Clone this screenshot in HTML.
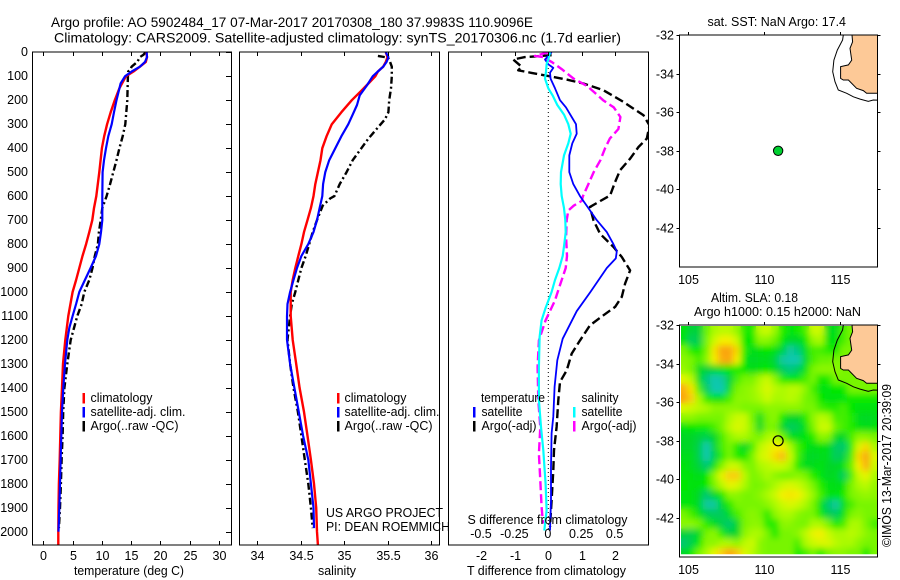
<!DOCTYPE html>
<html lang="en">
<head>
<meta charset="utf-8">
<title>Argo profile 5902484_17</title>
<style>
html,body{margin:0;padding:0;background:#fff;}
svg{display:block;}
text{font-family:"Liberation Sans",Arial,sans-serif;font-size:12.5px;fill:#000;}
</style>
</head>
<body>
<svg id="fig" width="900" height="580" viewBox="0 0 900 580" xmlns="http://www.w3.org/2000/svg">
<defs>
<clipPath id="clip-map1"><rect x="679.5" y="35" width="198" height="232"/></clipPath>
<clipPath id="clip-map2"><rect x="679.5" y="325" width="198" height="232"/></clipPath>
<clipPath id="clip-heat"><rect x="681" y="326" width="196.5" height="228.3"/></clipPath>
<clipPath id="clip-p1"><rect x="32.5" y="52" width="199" height="493"/></clipPath>
<clipPath id="clip-p2"><rect x="239.5" y="52" width="200" height="493"/></clipPath>
<clipPath id="clip-p3"><rect x="448.5" y="52" width="200" height="493"/></clipPath>
<filter id="soften" x="-5%" y="-5%" width="110%" height="110%">
<feGaussianBlur in="SourceGraphic" stdDeviation="3.2" result="b"/>
<feMerge><feMergeNode in="SourceGraphic"/><feMergeNode in="b"/></feMerge>
</filter>
</defs>
<rect x="0" y="0" width="900" height="580" fill="#fff"/>

<text x="51" y="27" font-size="14" style="font-size:14px" textLength="482" lengthAdjust="spacingAndGlyphs">Argo profile: AO 5902484_17 07-Mar-2017 20170308_180 37.9983S 110.9096E</text>
<text x="54" y="42.5" style="font-size:14px" textLength="567" lengthAdjust="spacingAndGlyphs">Climatology: CARS2009. Satellite-adjusted climatology: synTS_20170306.nc (1.7d earlier)</text>

<g id="p1-marks" clip-path="url(#clip-p1)"></g>
<g id="p2-marks" clip-path="url(#clip-p2)"></g>
<g id="p3-marks" clip-path="url(#clip-p3)"></g>
<g id="heat" clip-path="url(#clip-heat)"><g id="heat-cells" filter="url(#soften)"></g></g>
<g id="map1-marks" clip-path="url(#clip-map1)"></g>
<g id="map2-marks" clip-path="url(#clip-map2)"></g>
<g id="axes"></g>

<g>
<rect x="82.5" y="393" width="2.5" height="10.5" fill="#f00"/>
<rect x="82.5" y="407" width="2.5" height="10.5" fill="#00f"/>
<rect x="82.5" y="421" width="2.5" height="10.5" fill="#000"/>
<text x="90.5" y="402" textLength="62" lengthAdjust="spacingAndGlyphs">climatology</text>
<text x="90.5" y="416" textLength="95" lengthAdjust="spacingAndGlyphs">satellite-adj. clim.</text>
<text x="90.5" y="430" textLength="88" lengthAdjust="spacingAndGlyphs">Argo(..raw -QC)</text>
</g>
<g>
<rect x="337" y="393" width="2.5" height="10.5" fill="#f00"/>
<rect x="337" y="407" width="2.5" height="10.5" fill="#00f"/>
<rect x="337" y="421" width="2.5" height="10.5" fill="#000"/>
<text x="344.5" y="402" textLength="62" lengthAdjust="spacingAndGlyphs">climatology</text>
<text x="344.5" y="416" textLength="95" lengthAdjust="spacingAndGlyphs">satellite-adj. clim.</text>
<text x="344.5" y="430" textLength="88" lengthAdjust="spacingAndGlyphs">Argo(..raw -QC)</text>
</g>
<text x="326" y="517" textLength="117" lengthAdjust="spacingAndGlyphs">US ARGO PROJECT</text>
<text x="326" y="531" textLength="124" lengthAdjust="spacingAndGlyphs">PI: DEAN ROEMMICH</text>

<g>
<text x="481" y="402" textLength="64" lengthAdjust="spacingAndGlyphs">temperature</text>
<text x="581.5" y="402" textLength="37" lengthAdjust="spacingAndGlyphs">salinity</text>
<rect x="473" y="407" width="2.5" height="10.5" fill="#00f"/>
<rect x="473" y="421" width="2.5" height="10.5" fill="#000"/>
<rect x="573" y="407" width="2.5" height="10.5" fill="#0ff"/>
<rect x="573" y="421" width="2.5" height="10.5" fill="#f0f"/>
<text x="481.5" y="416" textLength="41" lengthAdjust="spacingAndGlyphs">satellite</text>
<text x="481.5" y="430" textLength="55" lengthAdjust="spacingAndGlyphs">Argo(-adj)</text>
<text x="581.5" y="416" textLength="41" lengthAdjust="spacingAndGlyphs">satellite</text>
<text x="581.5" y="430" textLength="55" lengthAdjust="spacingAndGlyphs">Argo(-adj)</text>
</g>

<text x="74" y="575" textLength="110" lengthAdjust="spacingAndGlyphs">temperature (deg C)</text>
<text x="318" y="575" textLength="38" lengthAdjust="spacingAndGlyphs">salinity</text>
<text x="467" y="575" textLength="159" lengthAdjust="spacingAndGlyphs">T difference from climatology</text>
<text x="467.5" y="524" textLength="160" lengthAdjust="spacingAndGlyphs">S difference from climatology</text>

<text x="707.5" y="26" textLength="138.5" lengthAdjust="spacingAndGlyphs">sat. SST: NaN Argo: 17.4</text>
<text x="711" y="302" textLength="87" lengthAdjust="spacingAndGlyphs">Altim. SLA: 0.18</text>
<text x="694" y="316" textLength="167" lengthAdjust="spacingAndGlyphs">Argo h1000: 0.15 h2000: NaN</text>
<text transform="translate(891,547) rotate(-90)" x="0" y="0" textLength="163" lengthAdjust="spacingAndGlyphs">©IMOS 13-Mar-2017 20:39:09</text>

<script>
/* ---- profile data ---- */
const tempClimDepth = [0,20,40,60,80,100,150,200,250,300,350,400,500,600,650,700,750,800,850,900,950,1000,1100,1200,1300,1400,1500,1600,1700,1800,1900,2000,2055];
const tempClim = [17.6,17.7,17.5,16.5,15.4,14.1,13,12.2,11.5,10.9,10.4,10,9.56,9.05,8.65,8.37,7.85,7.3,6.7,6.15,5.6,5,4.27,3.76,3.36,3.2,3,2.9,2.8,2.67,2.6,2.56,2.56];
const tempSatDepth = [0,20,40,60,80,100,130,200,250,300,350,400,450,500,600,700,750,800,850,900,950,1000,1050,1100,1150,1200,1300,1400,1500,1600,1700,1800,1900,2000];
const tempSat = [17.65,17.7,17.36,16.5,15.1,13.95,13.2,12.5,12.07,11.67,11.1,10.7,10.36,10.13,10.07,10.07,9.85,9.56,9,8.08,7.1,6.15,5.6,5,4.44,4.1,3.7,3.41,3.19,3.07,2.96,2.85,2.73,2.6];
const tempArgoDepth = [0,10,20,40,60,70,80,100,200,300,350,400,450,500,550,600,650,700,750,800,850,900,950,1000,1050,1100,1150,1200,1300,1400,1500,1600,1700,1800,1900,1985];
const tempArgo = [17.47,17.1,16.5,16.05,15.08,14.9,14.5,14.45,14.34,14,13.55,13,12.5,11.95,11.4,10.8,10.07,9.8,9.5,9.33,8.8,8.4,7.85,7,6.55,5.8,5.24,4.67,4.1,3.6,3.4,3.3,3.13,3,2.85,2.67];

const salClimDepth = [0,20,40,60,80,100,130,160,200,250,300,350,400,450,500,550,600,650,700,750,800,850,900,950,1000,1100,1200,1300,1400,1500,1600,1700,1800,1900,2000,2055];
const salClim = [35.48,35.5,35.48,35.45,35.39,35.36,35.28,35.2,35.09,34.97,34.86,34.8,34.75,34.73,34.7,34.67,34.65,34.62,34.58,34.54,34.51,34.475,34.44,34.41,34.387,34.387,34.41,34.45,34.49,34.54,34.58,34.62,34.655,34.68,34.69,34.7];
const salSatDepth = [0,20,40,60,80,100,140,180,220,260,300,350,400,450,500,550,600,650,700,750,800,850,900,950,1000,1050,1100,1200,1300,1400,1500,1600,1700,1800,1900,1985];
const salSat = [35.48,35.51,35.49,35.45,35.39,35.33,35.26,35.18,35.15,35.1,35.05,34.97,34.9,34.83,34.785,34.76,34.75,34.72,34.69,34.65,34.59,34.51,34.46,34.42,34.38,34.35,34.345,34.345,34.38,34.43,34.48,34.53,34.59,34.62,34.65,34.655];
const salArgoDepth = [15,22,30,60,100,150,200,250,280,320,360,400,450,500,550,600,610,640,700,750,800,850,900,950,1000,1050,1100,1200,1300,1400,1500,1600,1700,1800,1900,1985];
const salArgo = [35.39,35.5,35.52,35.55,35.55,35.54,35.52,35.51,35.47,35.375,35.28,35.2,35.1,35.03,34.95,34.89,34.84,34.755,34.69,34.64,34.6,34.56,34.51,34.475,34.44,34.4,34.38,34.35,34.38,34.42,34.47,34.51,34.55,34.59,34.62,34.64];

const dtSatDepth = [0,15,30,50,65,85,110,150,200,230,270,300,340,380,430,500,550,600,650,700,750,800,830,860,900,1000,1080,1195,1285,1395,1520,1590,1730,1870,1995];
const dtSat = [0.1,0,-0.1,0,0.15,0.05,0.07,0.2,0.35,0.53,0.7,0.83,0.85,0.72,0.63,0.63,0.75,0.95,1.2,1.45,1.75,1.95,2.05,2.02,1.75,1.26,0.85,0.43,0.27,0.19,0.15,0.1,0.08,0.08,0.05];
const dtArgoDepth = [12,20,30,60,75,86,100,114,130,158,207,263,305,360,395,444,492,541,597,625,645,700,757,812,854,910,965,1020,1062,1097,1139,1202,1257,1327,1375,1452,1563,1660,1744,1870,1980];
const dtArgo = [0.1,-0.7,-1.05,-0.8,-0.9,-0.5,0.05,0.55,1.05,1.65,2.25,2.85,3.03,2.95,2.7,2.45,2.15,2,1.85,1.5,1.25,1.35,1.55,1.95,2.2,2.45,2.3,2.2,2,1.65,1.25,0.95,0.7,0.55,0.35,0.3,0.25,0.17,0.15,0.1,0.05];
const dsSatDepth = [0,30,50,80,110,150,180,220,260,300,340,380,430,500,550,600,650,700,750,800,850,900,950,1000,1070,1118,1188,1313,1452,1563,1660,1800,1911,1995];
const dsSat = [0.0125,0,-0.0125,-0.0175,-0.025,0,0.0325,0.0675,0.1175,0.15,0.1675,0.15,0.1175,0.095,0.0925,0.1,0.1175,0.1275,0.13,0.12,0.1075,0.0825,0.05,0.025,-0.0225,-0.05,-0.065,-0.07,-0.07,-0.055,-0.0375,-0.02,-0.0125,-0.03];
const dsArgoDepth = [0,15,20,40,70,110,140,170,200,230,270,320,360,400,450,500,550,600,620,640,660,700,770,850,900,950,1000,1035,1118,1202,1313,1452,1563,1675,1786,1897,1966];
const dsArgo = [0,-0.1,-0.04,0.025,0.1,0.19,0.29,0.35,0.41,0.49,0.54,0.525,0.46,0.425,0.39,0.34,0.3,0.26,0.25,0.19,0.15,0.1375,0.133,0.14,0.13,0.1,0.07,0.05,-0.02,-0.07,-0.08,-0.075,-0.06,-0.07,-0.06,-0.05,-0.04];

/* ---- tick labels ---- */
const depthTicks = [0,100,200,300,400,500,600,700,800,900,1000,1100,1200,1300,1400,1500,1600,1700,1800,1900,2000];
const tempTicks = [0,5,10,15,20,25,30];
const salTicks = [34,34.5,35,35.5,36];
const dtTicks = [-2,-1,0,1,2];
const dsTicks = [-0.5,-0.25,0,0.25,0.5];
const lonTicks = [105,110,115];
const latTicks = [-32,-34,-36,-38,-40,-42];

/* ---- map data ---- */
const landLon = [115.77,115.81,115.64,115.75,115.53,115.02,115.02,115.2,115.53,116.07,116.51,116.73,117.6,117.6];
const landLat = [-32,-32.35,-32.69,-33.3,-33.55,-33.64,-34.25,-34.33,-34.33,-34.76,-34.88,-35.02,-35.02,-32];
const isoLon = [115.2,115.15,114.8,114.58,114.5,114.65,114.87,115.42,115.86,116.3,116.84,117.17,117.6];
const isoLat = [-32,-32.26,-32.78,-33.3,-33.9,-34.42,-34.85,-35.02,-35.2,-35.32,-35.44,-35.37,-35.38];
const profileLon = [110.91];
const profileLat = [-38];

/* ---- altimeter SLA in cm, 0.5 deg cells, north to south ---- */
const slaRows = [
[-6,-12,-12,2,8,10,10,6,-2,-3,10,12,6,-2,-5,-3,0,12,12,-8,-8,0,3,3,3,3],
[-6,-16,-14,3,12,18,18,12,-4,-4,5,5,2,-4,-10,-10,-4,6,8,-6,-6,0,3,3,3,3],
[3,-2,-4,3,20,32,36,22,-2,-8,-6,-4,-6,-12,-24,-20,-8,0,0,-2,-4,3,3,3,3,3],
[5,3,0,5,18,30,32,18,-4,-10,-8,-8,-12,-24,-32,-26,-10,0,2,2,3,3,3,3,3,3],
[6,3,-8,-12,-10,-6,-4,-2,-4,-8,-6,-4,-8,-16,-20,-16,-6,3,5,5,5,3,3,3,3,3],
[15,10,-8,-20,-28,-24,-12,0,3,3,8,12,5,-2,-4,-4,0,3,-4,-2,3,3,3,3,3,3],
[30,20,0,-16,-30,-26,-8,3,5,6,10,14,10,8,10,10,5,0,-6,-5,-4,-4,3,3,3,3],
[32,24,8,-2,-6,-6,0,5,5,6,8,12,8,8,10,8,3,2,-4,-6,-6,-5,-3,-3,-3,-3],
[14,12,10,8,5,5,5,5,3,3,3,5,5,5,5,5,3,3,0,-2,-2,0,-4,-6,-6,-6],
[5,5,3,3,3,3,8,12,12,3,-8,3,5,-3,-10,-10,-2,5,10,8,0,0,-2,-8,-10,-8],
[-5,-4,-3,-3,0,3,10,14,12,5,-10,3,3,-10,-16,-14,-6,3,12,12,2,0,-2,-6,-8,-6],
[-10,-10,-12,-14,-10,0,5,8,8,5,3,8,10,3,-6,-8,-5,-2,5,4,-8,-10,0,5,5,3],
[-10,-10,-14,-26,-12,0,3,-2,-10,0,10,14,18,18,8,0,-4,-8,-6,-8,-16,-18,-2,14,22,8],
[-8,-8,-14,-32,-14,-2,3,-2,-4,3,12,15,22,28,12,0,-8,-10,-8,-8,-16,-14,0,22,32,14],
[-6,-8,-12,-18,-6,4,12,12,5,3,8,10,12,12,8,-2,-8,-8,-6,-10,-10,-6,2,18,30,12],
[-5,-6,-8,-4,5,16,24,24,10,3,5,8,5,3,3,5,3,-2,-5,-10,-8,-16,0,12,16,8],
[-4,-6,-6,-4,3,10,16,14,8,3,3,5,8,12,14,12,8,3,-2,-6,-8,-6,3,8,10,6],
[-5,-6,-10,-18,-10,-3,5,5,3,3,5,8,12,18,20,18,12,6,0,-6,-6,-3,3,5,6,5],
[-5,-5,-10,-24,-24,-10,-2,3,3,3,3,5,8,12,14,12,8,3,-6,-18,-24,-8,0,3,3,3],
[3,0,-6,-14,-16,-16,-8,0,3,5,3,-2,5,8,8,5,3,3,-3,-14,-16,-6,3,5,3,3],
[5,5,3,-2,-8,-14,-18,-10,3,5,5,-2,-2,5,5,3,3,8,8,3,-3,0,8,8,3,0],
[-12,-14,-8,3,5,-2,-12,-10,5,8,8,3,-3,3,3,5,10,16,18,12,8,8,10,8,5,3],
[-18,-14,-4,5,5,8,8,5,10,12,5,3,3,3,3,0,8,12,14,14,10,8,8,5,3,3],
[-10,-4,3,8,16,24,32,26,14,10,5,3,3,3,3,-3,0,3,-2,3,5,5,3,3,-4,3]
];
const slaColorLevels = [-26,-18,-10,-4,3,8,13,18,25,32];
const slaColorRamp = [[16,200,176],[0,200,110],[0,215,40],[0,232,0],[120,245,0],[170,250,0],[210,250,0],[245,240,0],[250,200,10],[250,165,10]];

/* ---- axis functions ---- */
const NS = 'http://www.w3.org/2000/svg';
function yDepth(d){ return 52.3 + 0.2397 * d; }
function xTemp(t){ return 43.3 + 5.857 * t; }
function xSal(s){ return 257 + 87 * (s - 34); }
function xDT(t){ return 548.3 + 33.4 * t; }
function xDS(s){ return 548.3 + 133.6 * s; }
function xLon(lon){ return 688.3 + 15.2 * (lon - 105); }
function yLat1(lat){ return 35 + 19.3 * (-32 - lat); }
function yLat2(lat){ return 325 + 19.3 * (-32 - lat); }

function mk(tag, attrs, parent){
  const el = document.createElementNS(NS, tag);
  for (const k in attrs) el.setAttribute(k, attrs[k]);
  parent.appendChild(el);
  return el;
}
function profilePath(parent, name, xs, depths, xf, color, width, dash){
  let pts = '';
  for (let i = 0; i < xs.length; i++) pts += xf(xs[i]).toFixed(1) + ',' + yDepth(depths[i]).toFixed(1) + ' ';
  const attrs = {points: pts, fill: 'none', stroke: color, 'stroke-width': width, 'stroke-linejoin': 'round'};
  if (dash) attrs['stroke-dasharray'] = dash;
  const el = mk('polyline', attrs, parent);
  
  
}
function hline(parent, name, x1, y1, x2, y2){
  const el = mk('line', {x1: x1, y1: y1, x2: x2, y2: y2, stroke: '#000', 'stroke-width': 1, 'shape-rendering': 'crispEdges'}, parent);
  
  
}
function label(parent, name, x, y, str, anchor){
  const el = mk('text', {x: x, y: y, 'text-anchor': anchor}, parent);
  el.textContent = str;
  
  
}
function frame(parent, name, x, y, w, h){
  const el = mk('rect', {x: x, y: y, width: w, height: h, fill: 'none', stroke: '#000', 'stroke-width': 1, 'shape-rendering': 'crispEdges'}, parent);
  
  
}

/* ---- draw series ---- */
const p1 = document.getElementById('p1-marks');
const p2 = document.getElementById('p2-marks');
const p3 = document.getElementById('p3-marks');
const ARGO_DASH = '7 3 2 3';
profilePath(p1, 'temperature-argo-line', tempArgo, tempArgoDepth, xTemp, '#000', 2.4, ARGO_DASH);
profilePath(p1, 'temperature-climatology-line', tempClim, tempClimDepth, xTemp, '#f00', 2.4);
profilePath(p1, 'temperature-satellite-line', tempSat, tempSatDepth, xTemp, '#00f', 2.2);
profilePath(p2, 'salinity-argo-line', salArgo, salArgoDepth, xSal, '#000', 2.4, ARGO_DASH);
profilePath(p2, 'salinity-climatology-line', salClim, salClimDepth, xSal, '#f00', 2.4);
profilePath(p2, 'salinity-satellite-line', salSat, salSatDepth, xSal, '#00f', 2.2);
const zeroLine = mk('line', {x1: xDT(0), y1: 52, x2: xDT(0), y2: 530, stroke: '#000', 'stroke-width': 1, 'stroke-dasharray': '1 3'}, p3);


profilePath(p3, 't-difference-argo-line', dtArgo, dtArgoDepth, xDT, '#000', 2.4, '9 4');
profilePath(p3, 's-difference-argo-line', dsArgo, dsArgoDepth, xDS, '#f0f', 2.4, '9 4');
profilePath(p3, 't-difference-satellite-line', dtSat, dtSatDepth, xDT, '#00f', 1.8);
profilePath(p3, 's-difference-satellite-line', dsSat, dsSatDepth, xDS, '#0ff', 2.2);

/* ---- heatmap ---- */
function slaColor(v){
  const L = slaColorLevels, R = slaColorRamp;
  if (v <= L[0]) return 'rgb(' + R[0].join(',') + ')';
  for (let i = 1; i < L.length; i++) {
    if (v <= L[i]) {
      const f = (v - L[i-1]) / (L[i] - L[i-1]);
      const c = R[i].map(function(u, k){ return Math.round(R[i-1][k] + f * (u - R[i-1][k])); });
      return 'rgb(' + c.join(',') + ')';
    }
  }
  return 'rgb(' + R[R.length-1].join(',') + ')';
}
const heatCells = document.getElementById('heat-cells');
slaRows.forEach(function(row, i){
  row.forEach(function(v, j){
    const lonW = 104.45 + 0.5 * j;
    const latN = -32.05 - 0.5 * i;
    const cell = mk('rect', {
      x: xLon(lonW).toFixed(2),
      y: yLat2(latN).toFixed(2),
      width: (15.2 * 0.5 + 0.4).toFixed(2),
      height: (19.3 * 0.5 + 0.4).toFixed(2),
      fill: slaColor(v)
    }, heatCells);
    
    
  });
});

/* ---- maps ---- */
function ptsOf(lons, lats, yf){
  return lons.map(function(lon, i){ return xLon(lon).toFixed(1) + ',' + yf(lats[i]).toFixed(1); }).join(' ');
}
function drawMap(id, yf, mapPrefix){
  const g = document.getElementById(id);
  const land = mk('polygon', {points: ptsOf(landLon, landLat, yf), fill: '#fdc997', stroke: '#000', 'stroke-width': 1}, g);
  
  
  const iso = mk('polyline', {points: ptsOf(isoLon, isoLat, yf), fill: 'none', stroke: '#000', 'stroke-width': 1}, g);
  
  
}
drawMap('map1-marks', yLat1, 'sst-map');
drawMap('map2-marks', yLat2, 'sla-map');
const m1 = document.getElementById('map1-marks');
const m2 = document.getElementById('map2-marks');
const dot1 = mk('circle', {cx: xLon(profileLon[0]), cy: yLat1(profileLat[0]), r: 4.7, fill: '#00d030', stroke: '#000', 'stroke-width': 1}, m1);


const dot2 = mk('circle', {cx: xLon(profileLon[0]), cy: yLat2(profileLat[0]), r: 5, fill: 'none', stroke: '#000', 'stroke-width': 1.2}, m2);



/* ---- axes ---- */
const ax = document.getElementById('axes');
const PB = 545, PT = 52;
frame(ax, 'temperature-panel-frame', 32.5, PT, 199, PB - PT);
frame(ax, 'salinity-panel-frame', 239.5, PT, 200, PB - PT);
frame(ax, 'difference-panel-frame', 448.5, PT, 200, PB - PT);
frame(ax, 'sst-map-frame', 679.5, 35, 198, 232);
frame(ax, 'sla-map-frame', 679.5, 325, 198, 232);

depthTicks.forEach(function(d){
  const y = Math.round(yDepth(d)) + 0.5;
  hline(ax, 'depth-tick', 226, y, 231.5, y);
  label(ax, 'depth-tick-label', 28, y + 3.5, String(d), 'end');
});
tempTicks.forEach(function(t){
  const x = Math.round(xTemp(t)) + 0.5;
  hline(ax, 'temperature-tick-top', x, PT, x, PT + 4);
  hline(ax, 'temperature-tick-bottom', x, PB, x, PB - 4);
  label(ax, 'temperature-tick-label', x, 560, String(t), 'middle');
});
salTicks.forEach(function(s){
  const x = Math.round(xSal(s)) + 0.5;
  hline(ax, 'salinity-tick-top', x, PT, x, PT + 4);
  hline(ax, 'salinity-tick-bottom', x, PB, x, PB - 4);
  label(ax, 'salinity-tick-label', x, 560, String(s), 'middle');
});
dtTicks.forEach(function(t){
  const x = Math.round(xDT(t)) + 0.5;
  hline(ax, 't-difference-tick', x, PT, x, PT + 4);
  label(ax, 't-difference-tick-label', x, 560, String(t), 'middle');
});
dsTicks.forEach(function(s){
  label(ax, 's-difference-tick-label', xDS(s) - 0.5, 538, String(s), 'middle');
});
lonTicks.forEach(function(lon){
  const x = Math.round(xLon(lon)) + 0.5;
  hline(ax, 'sst-map-lon-tick-top', x, 35, x, 32);
  hline(ax, 'sla-map-lon-tick-top', x, 325, x, 322);
  label(ax, 'sst-map-lon-label', x, 284, String(lon), 'middle');
  label(ax, 'sla-map-lon-label', x, 574, String(lon), 'middle');
});
latTicks.forEach(function(lat){
  const y1 = Math.round(yLat1(lat)) + 0.5;
  const y2 = Math.round(yLat2(lat)) + 0.5;
  hline(ax, 'sst-map-lat-tick-left', 679.5, y1, 676.5, y1);
  hline(ax, 'sst-map-lat-tick-right', 877.5, y1, 880.5, y1);
  hline(ax, 'sla-map-lat-tick-left', 679.5, y2, 676.5, y2);
  hline(ax, 'sla-map-lat-tick-right', 877.5, y2, 880.5, y2);
  label(ax, 'sst-map-lat-label', 674, y1 + 4, String(lat), 'end');
  label(ax, 'sla-map-lat-label', 674, y2 + 4, String(lat), 'end');
});
</script>
</svg>
</body>
</html>
